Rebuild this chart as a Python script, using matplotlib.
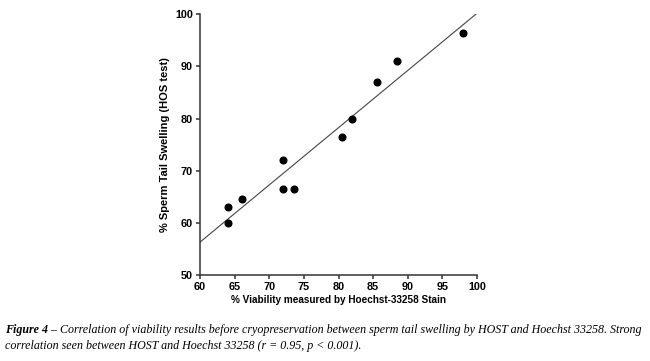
import numpy as np
import matplotlib.pyplot as plt

# % viability (Hoechst 33258) vs % sperm tail swelling (HOS test)
viability = [64, 64, 66, 72, 72, 73.5, 80.5, 82, 85.5, 88.5, 98]
swelling = [63, 60, 64.5, 72, 66.5, 66.5, 76.5, 80, 87, 91, 96.5]
xticks = [60, 65, 70, 75, 80, 85, 90, 95, 100]
yticks = [50, 60, 70, 80, 90, 100]

fig = plt.figure(figsize=(6.5, 3.61), dpi=100)
ax = fig.add_axes([0.3077, 0.2382, 0.4262, 0.7222])

# regression line
slope, icpt = np.polyfit(viability, swelling, 1)
xl = np.array([60, 100])
ax.plot(xl, slope * xl + icpt, color='#444444', lw=0.8)

ax.plot(viability, swelling, 'o', color='black', ms=4.8)

ax.set_xlim(60, 100)
ax.set_ylim(50, 100)
ax.set_xticks(xticks)
ax.set_yticks(yticks)
for s in ['top', 'right']:
    ax.spines[s].set_visible(False)
for s in ['left', 'bottom']:
    ax.spines[s].set_linewidth(1.1)
    ax.spines[s].set_color('#333333')
ax.tick_params(length=3, width=1.1, color='#333333', labelsize=7.8, pad=2)
for lab in ax.get_xticklabels() + ax.get_yticklabels():
    lab.set_fontweight('bold')
    lab.set_family('Liberation Sans')

ax.set_xlabel('% Viability measured by Hoechst-33258 Stain', fontsize=7.2,
              fontweight='bold', family='Liberation Sans', labelpad=2)
ax.set_ylabel('% Sperm Tail Swelling (HOS test)', fontsize=8,
              fontweight='bold', family='Liberation Sans', labelpad=4)

# caption
t1 = fig.text(0.008, 1 - 333 / 361, 'Figure 4', fontsize=8.65, family='Liberation Serif',
              fontweight='bold', style='italic', va='baseline')
ax.annotate(' \u2013 Correlation of viability results before cryopreservation between sperm tail '
            'swelling by HOST and Hoechst 33258. Strong',
            xy=(1, 0), xycoords=t1, va='bottom', fontsize=8.65,
            family='Liberation Serif', style='italic', annotation_clip=False)
fig.text(0.008, 1 - 349 / 361,
         'correlation seen between HOST and Hoechst 33258 (r = 0.95, p < 0.001).',
         fontsize=8.65, family='Liberation Serif', style='italic', va='baseline')

fig.savefig('out.png', dpi=100)
